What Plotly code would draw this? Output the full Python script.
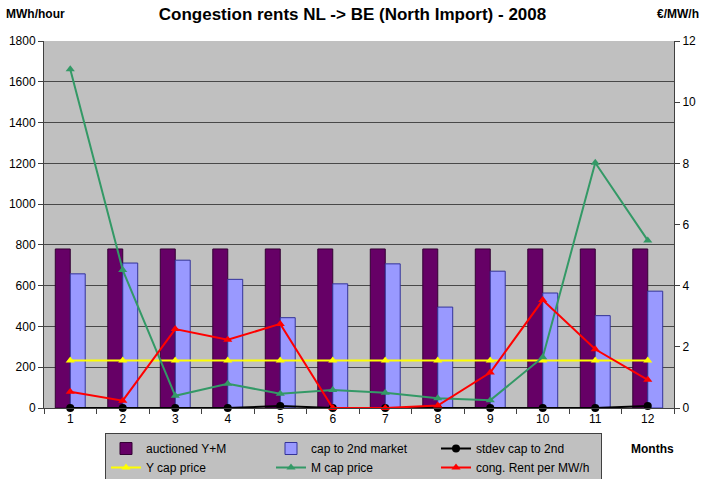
import plotly.graph_objects as go

months = ["1", "2", "3", "4", "5", "6", "7", "8", "9", "10", "11", "12"]
auctioned = [780, 780, 780, 780, 780, 780, 780, 780, 780, 780, 780, 780]
cap_2nd = [658, 711, 725, 631, 443, 609, 707, 495, 671, 564, 453, 573]
stdev_2nd = [0, 0, 0, 0, 10, 0, 0, 0, 0, 0, 0, 10]
y_cap_price = [1.55, 1.55, 1.55, 1.55, 1.55, 1.55, 1.55, 1.55, 1.55, 1.55, 1.55, 1.55]
m_cap_price = [11.08, 4.51, 0.40, 0.79, 0.47, 0.59, 0.50, 0.32, 0.25, 1.66, 8.02, 5.48]
cong_rent = [0.53, 0.24, 2.58, 2.23, 2.75, 0.0, 0.0, 0.08, 1.16, 3.53, 1.92, 0.92]

arial = "Liberation Sans, Arial, sans-serif"

fig = go.Figure()
fig.add_trace(go.Bar(x=months, y=auctioned, name="auctioned Y+M",
                     marker=dict(color="#660066", line=dict(color="#330033", width=1))))
fig.add_trace(go.Bar(x=months, y=cap_2nd, name="cap to 2nd market",
                     marker=dict(color="#9999ff", line=dict(color="#333399", width=1))))
fig.add_trace(go.Scatter(x=months, y=stdev_2nd, name="stdev cap to 2nd", mode="lines+markers",
                         cliponaxis=False,
                         line=dict(color="#000000", width=2),
                         marker=dict(symbol="circle", size=8, color="#000000")))
fig.add_trace(go.Scatter(x=months, y=y_cap_price, name="Y cap price", mode="lines+markers", yaxis="y2",
                         cliponaxis=False,
                         line=dict(color="#ffff00", width=2),
                         marker=dict(symbol="triangle-up", size=8, color="#ffff00")))
fig.add_trace(go.Scatter(x=months, y=m_cap_price, name="M cap price", mode="lines+markers", yaxis="y2",
                         cliponaxis=False,
                         line=dict(color="#339966", width=2),
                         marker=dict(symbol="triangle-up", size=8, color="#339966")))
fig.add_trace(go.Scatter(x=months, y=cong_rent, name="cong. Rent per MW/h", mode="lines+markers", yaxis="y2",
                         cliponaxis=False,
                         line=dict(color="#ff0000", width=2),
                         marker=dict(symbol="triangle-up", size=8, color="#ff0000")))

fig.update_layout(
    width=705, height=479,
    margin=dict(l=44, r=31, t=41, b=71, autoexpand=False),
    paper_bgcolor="white",
    plot_bgcolor="#c0c0c0",
    barmode="group", bargap=0.43, bargroupgap=0,
    showlegend=True,
    title=dict(text="<b>Congestion rents NL -> BE (North Import) - 2008</b>",
               x=0.5, xanchor="center", y=1 - 14 / 479, yanchor="middle",
               font=dict(family=arial, size=17, color="black")),
    font=dict(family=arial, size=12, color="black"),
    xaxis=dict(type="category", range=[-0.5, 11.5], ticks="outside", tickson="boundaries", ticklen=5,
               tickcolor="#404040", showline=True, linecolor="#404040", linewidth=1,
               showgrid=False, tickfont=dict(family=arial, size=12)),
    yaxis=dict(range=[0, 1800], dtick=200, ticks="outside", ticklen=5, tickcolor="#404040",
               showline=True, linecolor="#404040", linewidth=1,
               showgrid=True, gridcolor="#484848", gridwidth=1, zeroline=False,
               tickfont=dict(family=arial, size=12)),
    yaxis2=dict(range=[0, 12], dtick=2, overlaying="y", side="right", ticks="outside", ticklen=5,
                tickcolor="#404040", showline=True, linecolor="#404040", linewidth=1,
                showgrid=False, zeroline=False, tickfont=dict(family=arial, size=12)),
    legend=dict(orientation="h", x=(105 - 44) / 630, xanchor="left", y=-(433 - 408) / 367, yanchor="top",
                bgcolor="#c0c0c0", bordercolor="#404040", borderwidth=1,
                entrywidth=120, entrywidthmode="pixels", traceorder="normal",
                font=dict(family=arial, size=12), itemwidth=30, tracegroupgap=0),
    annotations=[
        dict(text="<b>MWh/hour</b>", xref="paper", x=(4 - 44) / 630, yref="paper", y=1 + (41 - 14) / 367,
             xanchor="left", yanchor="middle", showarrow=False,
             font=dict(family=arial, size=12)),
        dict(text="<b>€/MW/h</b>", xref="paper", x=(701 - 44) / 630, yref="paper", y=1 + (41 - 14) / 367,
             xanchor="right", yanchor="middle", showarrow=False,
             font=dict(family=arial, size=12)),
        dict(text="<b>Months</b>", xref="paper", x=(652 - 44) / 630, yref="paper", y=-(449 - 408) / 367,
             xanchor="center", yanchor="middle", showarrow=False,
             font=dict(family=arial, size=12)),
    ],
)

fig.write_html("out.html", config={"displayModeBar": False},
               post_script="document.body.style.margin='0';document.body.style.overflow='hidden';")
